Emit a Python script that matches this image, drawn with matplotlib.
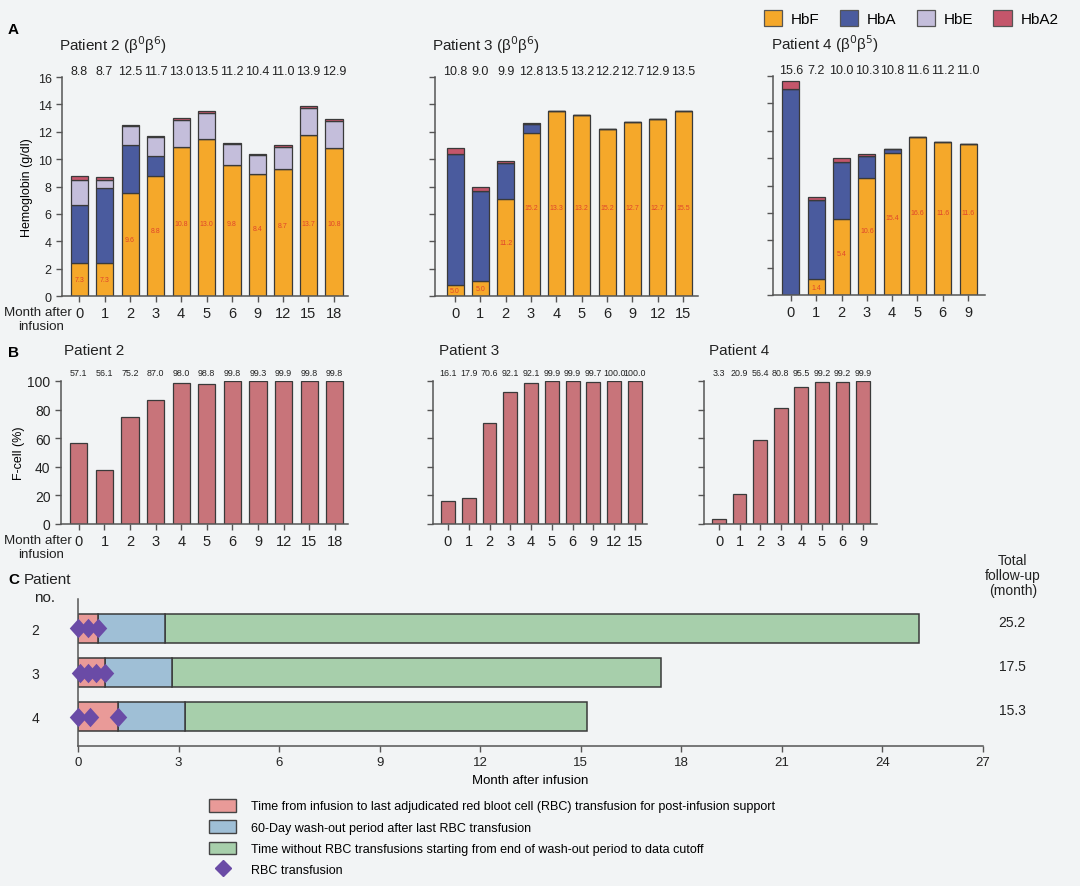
import matplotlib
matplotlib.use('Agg')
import matplotlib.pyplot as plt
from matplotlib.patches import Patch
from matplotlib.lines import Line2D
from matplotlib.path import Path
import numpy as np

# ---------------- DATA ----------------
# Panel A: hemoglobin fractions (g/dl)
p2_months = ['0', '1', '2', '3', '4', '5', '6', '9', '12', '15', '18']
p2_hbf = [2.4, 2.4, 7.55, 8.75, 10.9, 11.5, 9.6, 8.9, 9.3, 11.75, 10.8]
p2_hba = [4.25, 5.5, 3.5, 1.45, 0, 0, 0, 0, 0, 0, 0]
p2_hbe = [1.8, 0.6, 1.35, 1.4, 1.98, 1.88, 1.48, 1.38, 1.58, 2.0, 1.98]
p2_hba2 = [0.35, 0.2, 0.1, 0.12, 0.12, 0.12, 0.12, 0.12, 0.12, 0.15, 0.12]
p2_totals = ['8.8', '8.7', '12.5', '11.7', '13.0', '13.5', '11.2', '10.4', '11.0', '13.9', '12.9']
p2_inner = ['7.3', '7.3', '9.6', '8.8', '10.8', '13.0', '9.8', '8.4', '8.7', '13.7', '10.8']

p3_months = ['0', '1', '2', '3', '4', '5', '6', '9', '12', '15']
p3_hbf = [0.8, 1.1, 7.1, 11.9, 13.5, 13.2, 12.2, 12.7, 12.9, 13.5]
p3_hba = [9.6, 6.6, 2.65, 0.7, 0, 0, 0, 0, 0, 0]
p3_hbe = [0, 0, 0, 0, 0, 0, 0, 0, 0, 0]
p3_hba2 = [0.4, 0.3, 0.1, 0.06, 0, 0, 0, 0, 0, 0]
p3_totals = ['10.8', '9.0', '9.9', '12.8', '13.5', '13.2', '12.2', '12.7', '12.9', '13.5']
p3_inner = ['5.0', '5.0', '11.2', '15.2', '13.3', '13.2', '15.2', '12.7', '12.7', '15.5']

p4_months = ['0', '1', '2', '3', '4', '5', '6', '9']
p4_hbf = [0, 1.15, 5.55, 8.55, 10.35, 11.55, 11.15, 11.0]
p4_hba = [15.05, 5.8, 4.15, 1.6, 0.35, 0, 0, 0]
p4_hbe = [0, 0, 0, 0, 0, 0, 0, 0]
p4_hba2 = [0.55, 0.2, 0.28, 0.12, 0, 0, 0, 0]
p4_totals = ['15.6', '7.2', '10.0', '10.3', '10.8', '11.6', '11.2', '11.0']
p4_inner = ['', '1.4', '5.4', '10.6', '15.4', '16.6', '11.6', '11.6']

# Panel B: F-cell (%)
p2_fcell = [56.5, 38.0, 75.0, 86.8, 98.8, 98.2, 99.8, 99.8, 99.9, 99.8, 99.8]
p2_fcell_labels = ['57.1', '56.1', '75.2', '87.0', '98.0', '98.8', '99.8', '99.3', '99.9', '99.8', '99.8']
p3_fcell = [16.0, 17.9, 70.5, 92.0, 98.8, 99.9, 99.9, 99.5, 100.0, 100.0]
p3_fcell_labels = ['16.1', '17.9', '70.6', '92.1', '92.1', '99.9', '99.9', '99.7', '100.0', '100.0']
p4_fcell = [3.3, 20.9, 58.5, 80.8, 95.5, 99.2, 99.2, 99.9]
p4_fcell_labels = ['3.3', '20.9', '56.4', '80.8', '95.5', '99.2', '99.2', '99.9']

# Panel C: transfusion timeline (months)
c_patients = ['2', '3', '4']
c_last_rbc = [0.6, 0.8, 1.2]
c_washout_end = [2.6, 2.8, 3.2]
c_followup_end = [25.1, 17.4, 15.2]
c_total_labels = ['25.2', '17.5', '15.3']
c_rbc_times = [[0.0, 0.3, 0.6], [0.05, 0.3, 0.55, 0.8], [0.0, 0.35, 1.2]]

# ---------------- STYLE ----------------
W, H = 1080, 887
BG = '#f2f4f5'
C_HBF = '#f5a82a'
C_HBA = '#4a5b9e'
C_HBE = '#c4bedb'
C_HBA2 = '#c4566b'
C_FCELL = '#c8747a'
C_RED = '#e99a98'
C_BLUE = '#9fbfd6'
C_GREEN = '#a7cfab'
C_DIAM = '#6a4ba6'
EDGE = '#3a3a3a'
SPINE = '#555555'
TXT = '#222222'

plt.rcParams['font.family'] = ['Liberation Sans', 'DejaVu Sans']

fig = plt.figure(figsize=(W / 100, H / 100), dpi=100)
fig.patch.set_facecolor(BG)


def ax_at(l, t, r, b):
    ax = fig.add_axes([l / W, 1 - b / H, (r - l) / W, (b - t) / H])
    ax.set_facecolor('none')
    for s in ['top', 'right']:
        ax.spines[s].set_visible(False)
    for s in ['left', 'bottom']:
        ax.spines[s].set_color(SPINE)
        ax.spines[s].set_linewidth(1.1)
    ax.tick_params(color=SPINE, length=4, width=1.0, labelcolor=TXT)
    return ax


diamond = Path([(0, 1), (0.9, 0), (0, -1), (-0.9, 0), (0, 1)],
               [Path.MOVETO, Path.LINETO, Path.LINETO, Path.LINETO, Path.CLOSEPOLY])

# ---------------- PANEL A ----------------
panelA = [
    ('Patient 2 (β$^0$β$^6$)', p2_months, p2_hbf, p2_hba, p2_hbe, p2_hba2, p2_totals, p2_inner,
     (62, 78, 348, 297), (-0.67, 10.55), 5.3, True),
    ('Patient 3 (β$^0$β$^6$)', p3_months, p3_hbf, p3_hba, p3_hbe, p3_hba2, p3_totals, p3_inner,
     (435, 78, 698, 297), (-0.79, 9.59), 6.5, False),
    ('Patient 4 (β$^0$β$^5$)', p4_months, p4_hbf, p4_hba, p4_hbe, p4_hba2, p4_totals, p4_inner,
     (773, 77, 985, 296), (-0.71, 7.67), 6.0, False),
]
for (title, months, hbf, hba, hbe, hba2, totals, inner, box, xl, cap, showy) in panelA:
    ax = ax_at(*box)
    x = np.arange(len(months))
    hbf = np.array(hbf); hba = np.array(hba); hbe = np.array(hbe); hba2 = np.array(hba2)
    kw = dict(width=0.67, edgecolor=EDGE, linewidth=0.9)
    ax.bar(x, hbf, color=C_HBF, **kw)
    ax.bar(x, hba, bottom=hbf, color=C_HBA, **kw)
    ax.bar(x, hbe, bottom=hbf + hba, color=C_HBE, **kw)
    ax.bar(x, hba2, bottom=hbf + hba + hbe, color=C_HBA2, **kw)
    ax.set_xlim(*xl)
    ax.set_ylim(0, 16)
    ax.set_yticks(range(0, 17, 2))
    ax.set_xticks(x)
    ax.set_xticklabels(months, fontsize=10.5)
    if showy:
        ax.set_yticklabels([str(v) for v in range(0, 17, 2)], fontsize=9)
        ax.set_ylabel('Hemoglobin (g/dl)', fontsize=9, labelpad=3)
    else:
        ax.set_yticklabels([])
    for xi, t in zip(x, totals):
        ax.text(xi, 16.0, t, ha='center', va='bottom', fontsize=9.0, color=TXT)
    for xi, f, t in zip(x, hbf, inner):
        if not t:
            continue
        yy = f / 2 if f < 3 else min(f * 0.55, cap)
        ax.text(xi, yy, t, ha='center', va='center', fontsize=5, color='#e0452a')
    ax.text(-0.01, 1.1, title, transform=ax.transAxes, fontsize=11, ha='left', va='bottom', color=TXT)

fig.text(4 / W, 1 - 313 / H, 'Month after', fontsize=9.6, ha='left', va='center', color=TXT)
fig.text(18 / W, 1 - 327 / H, 'infusion', fontsize=9.6, ha='left', va='center', color=TXT)

# ---------------- PANEL B ----------------
panelB = [
    ('Patient 2', p2_months, p2_fcell, p2_fcell_labels, (61, 382, 348, 525), (-0.7, 10.52), True),
    ('Patient 3', p3_months, p3_fcell, p3_fcell_labels, (433, 382, 647, 525), (-0.72, 9.58), False),
    ('Patient 4', p4_months, p4_fcell, p4_fcell_labels, (704, 382, 877, 525), (-0.73, 7.68), False),
]
for (title, months, vals, labels, box, xl, showy) in panelB:
    ax = ax_at(*box)
    x = np.arange(len(months))
    ax.bar(x, vals, width=0.67, color=C_FCELL, edgecolor=EDGE, linewidth=0.9)
    ax.set_xlim(*xl)
    ax.set_ylim(0, 100)
    ax.set_yticks(range(0, 101, 20))
    ax.set_xticks(x)
    ax.set_xticklabels(months, fontsize=10.5)
    if showy:
        ax.set_yticklabels([str(v) for v in range(0, 101, 20)], fontsize=10)
        ax.set_ylabel('F-cell (%)', fontsize=9, labelpad=2)
    else:
        ax.set_yticklabels([])
    for xi, t in zip(x, labels):
        ax.text(xi, 103, t, ha='center', va='bottom', fontsize=6.4, color=TXT)
    ax.text(0.01 if showy else 0.03, 1.17, title, transform=ax.transAxes, fontsize=11,
            ha='left', va='bottom', color=TXT)

fig.text(4 / W, 1 - 541 / H, 'Month after', fontsize=9.6, ha='left', va='center', color=TXT)
fig.text(18 / W, 1 - 555 / H, 'infusion', fontsize=9.6, ha='left', va='center', color=TXT)

# ---------------- PANEL C ----------------
axc = ax_at(78, 600, 983, 747)
yy = np.arange(len(c_patients))
h = 0.66
last = np.array(c_last_rbc); wash = np.array(c_washout_end); fol = np.array(c_followup_end)
axc.barh(yy, fol - wash, left=wash, height=h, color=C_GREEN, edgecolor=EDGE, linewidth=1.1)
axc.barh(yy, wash - last, left=last, height=h, color=C_BLUE, edgecolor=EDGE, linewidth=1.1)
axc.barh(yy, last, left=0, height=h, color=C_RED, edgecolor=EDGE, linewidth=1.1)
for yi, times in zip(yy, c_rbc_times):
    axc.plot(times, [yi] * len(times), linestyle='none', marker=diamond, markersize=14,
             color=C_DIAM, markeredgewidth=0, clip_on=False, zorder=5)
axc.set_xlim(0, 27)
axc.set_ylim(2.67, -0.67)
axc.set_xticks(range(0, 28, 3))
axc.set_xticklabels([str(v) for v in range(0, 28, 3)], fontsize=9.5)
axc.set_yticks(yy)
axc.set_yticklabels(c_patients, fontsize=10)
axc.tick_params(axis='y', length=0, pad=28)
axc.set_xlabel('Month after infusion', fontsize=9.5, labelpad=4)
for yi, t in zip(yy, c_total_labels):
    axc.annotate(t, xy=(1.0, yi - 0.15), xycoords=('axes fraction', 'data'),
                 xytext=(21, 0), textcoords='offset points', fontsize=10, ha='center', va='center',
                 color=TXT)

fig.text(1013 / W, 1 - 576 / H, 'Total\nfollow-up\n(month)', fontsize=10, ha='center', va='center',
         linespacing=1.05, color=TXT)
fig.text(8 / W, 1 - 580 / H, 'C', fontsize=11, fontweight='bold', ha='left', va='center')
fig.text(24 / W, 1 - 580 / H, 'Patient', fontsize=11, ha='left', va='center', color=TXT)
fig.text(45 / W, 1 - 598 / H, 'no.', fontsize=11, ha='center', va='center', color=TXT)

# panel letters
fig.text(8 / W, 1 - 30 / H, 'A', fontsize=11, fontweight='bold', ha='left', va='center')
fig.text(8 / W, 1 - 353 / H, 'B', fontsize=11, fontweight='bold', ha='left', va='center')

# top legend
hb_handles = [Patch(facecolor=c, edgecolor='#555', linewidth=0.9) for c in [C_HBF, C_HBA, C_HBE, C_HBA2]]
fig.legend(hb_handles, ['HbF', 'HbA', 'HbE', 'HbA2'], loc='center left',
           bbox_to_anchor=(750 / W, 1 - 19 / H), ncol=4, frameon=False, fontsize=11,
           handlelength=1.2, handleheight=1.2, columnspacing=1.3, handletextpad=0.6)

# panel C legend
c_handles = [Patch(facecolor=C_RED, edgecolor='#444', linewidth=1.0),
             Patch(facecolor=C_BLUE, edgecolor='#444', linewidth=1.0),
             Patch(facecolor=C_GREEN, edgecolor='#444', linewidth=1.0),
             Line2D([0], [0], linestyle='none', marker='D', markersize=8, color=C_DIAM)]
c_labels = ['Time from infusion to last adjudicated red bloot cell (RBC) transfusion for post-infusion support',
            '60-Day wash-out period after last RBC transfusion',
            'Time without RBC transfusions starting from end of wash-out period to data cutoff',
            'RBC transfusion']
fig.legend(c_handles, c_labels, loc='upper left', bbox_to_anchor=(200 / W, 1 - 791 / H),
           frameon=False, fontsize=9, handlelength=2.2, handleheight=1.2, labelspacing=0.62,
           handletextpad=1.2, borderpad=0.2)

fig.savefig('out.png', dpi=100, facecolor=BG)
